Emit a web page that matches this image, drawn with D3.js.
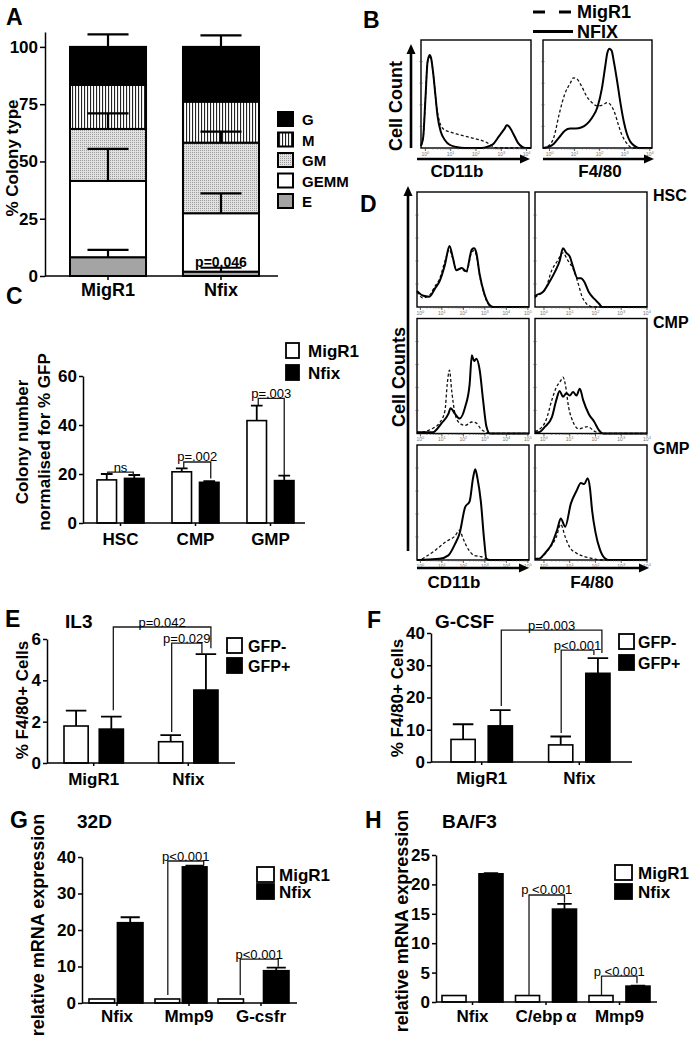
<!DOCTYPE html>
<html><head><meta charset="utf-8">
<script src="https://cdn.jsdelivr.net/npm/d3@7"></script>
<style>body{margin:0;background:#fff}svg{display:block}text{font-family:"Liberation Sans",Arial,Helvetica,sans-serif}</style>
</head><body><svg id="fig" width="700" height="1042"></svg>
<script>
// ================= DATA =================
// Panel A : % colony type (stacked, bottom -> top)
const colonyGroups = ["MigR1", "Nfix"];
const colonyTypes = ["E", "GEMM", "GM", "M", "G"];
const colonyLegendOrder = ["G", "M", "GM", "GEMM", "E"];
const colonyE = [8.2, 1.9];
const colonyGEMM = [33.3, 25.5];
const colonyGM = [22.7, 30.8];
const colonyM = [19.2, 17.9];
const colonyG = [16.6, 23.9];
const colonyErrE = [3.2, 1.7];
const colonyErrGEMM = [14, 8.7];
const colonyErrGM = [6.8, 4.8];
const colonyErrM = [0, 0];
const colonyErrG = [5.5, 5];
const colonyTicks = [0, 25, 50, 75, 100];

// Panel B : flow histograms (x = % of log scale, y = % of max count)
const bCd11bMigR1 = [[0,2],[2,10],[4,45],[6,80],[8,84],[10,78],[12,60],[14,40],[17,24],[21,17],[26,15],[32,13],[40,11],[48,9],[55,7],[60,5],[63,3],[66,1],[70,0],[100,0]];
const bCd11bNfix = [[0,2],[2,10],[4,45],[6,80],[8,86],[9,84],[11,70],[13,50],[15,30],[18,15],[22,7],[26,3],[32,1],[40,0],[55,0],[60,1],[66,4],[71,11],[76,18],[78,21],[80,20],[84,13],[88,5],[92,1],[95,0],[100,0]];
const bF480MigR1 = [[0,0],[5,2],[10,10],[15,32],[20,50],[25,60],[28,65],[31,64],[35,58],[40,48],[45,42],[50,39],[55,40],[59,42],[62,40],[66,32],[69,22],[72,13],[75,7],[78,3],[82,0],[100,0]];
const bF480Nfix = [[0,0],[5,1],[10,4],[15,10],[20,16],[25,18],[30,18],[35,19],[40,22],[45,28],[50,38],[54,55],[57,75],[59,88],[61,92],[63,90],[65,80],[68,62],[71,42],[74,25],[77,13],[80,6],[84,2],[88,0],[100,0]];

// Panel C : colony number normalised for % GFP
const progenitors = ["HSC", "CMP", "GMP"];
const vectorSeries = ["MigR1", "Nfix"];
const colonyNumMigR1 = [17.6, 20.9, 41.8];
const colonyNumNfix = [18.2, 16.6, 17.3];
const colonyNumErrMigR1 = [2.4, 1.4, 6.1];
const colonyNumErrNfix = [1.4, 0.5, 2.0];
const colonyNumTicks = [0, 20, 40, 60];
const colonyNumBrackets = [
  {ga:"HSC", sa:"MigR1", gb:"HSC", sb:"Nfix", level:20.8, legA:20, legB:19.6, label:"ns"},
  {ga:"CMP", sa:"MigR1", gb:"CMP", sb:"Nfix", level:24.9, legA:22.3, legB:18.2, label:"p=.002"},
  {ga:"GMP", sa:"MigR1", gb:"GMP", sb:"Nfix", level:50.9, legA:48.2, legB:19.6, label:"p=.003"}
];

// Panel D : flow histograms per progenitor
const dRows = ["HSC", "CMP", "GMP"];
const dCols = ["CD11b", "F4/80"];
const dHscCd11bMigR1 = [[0,13],[1,12],[5,8],[11,10],[16,18],[20,24],[25,40],[29,50],[32,42],[35,33],[40,33],[44,30],[49,48],[51,49],[53,45],[56,27],[60,11],[65,1],[68,0],[100,0]];
const dHscCd11bNfix = [[0,14],[1,13],[5,10],[11,9],[16,16],[20,22],[25,37],[29,53],[32,43],[35,32],[40,34],[44,31],[49,50],[51,51],[53,47],[56,28],[60,12],[65,1.5],[68,0],[100,0]];
const dHscF480MigR1 = [[0,8],[1,9],[9,15],[15,32],[20,40],[25,47],[29,41],[35,31],[39,19],[42,9],[45,4],[48,1],[53,0],[100,0]];
const dHscF480Nfix = [[0,9],[1,10],[7,13],[13,22],[18,31],[22,40],[25,51],[28,47],[31,44],[34,35],[38,25],[41,25],[44,22],[48,13],[53,7],[57,3],[60,0],[100,0]];
const dCmpCd11bMigR1 = [[0,1],[2,1],[13,4],[20,9],[25,20],[27,43],[29,55],[31,37],[34,17],[38,9],[43,7],[49,10],[53,9],[57,4],[62,1],[66,0],[100,0]];
const dCmpCd11bNfix = [[0,1],[2,1],[14,1],[22,9],[28,17],[30,22],[34,17],[38,13],[43,23],[47,43],[49,68],[51,63],[53,65],[56,55],[59,29],[62,6],[65,0],[100,0]];
const dCmpF480MigR1 = [[0,2],[3,3],[10,12],[15,29],[19,40],[23,46],[25,49],[27,43],[30,23],[34,10],[39,4],[47,6],[53,2],[58,0],[100,0]];
const dCmpF480Nfix = [[0,1],[3,1],[9,6],[15,14],[19,29],[22,37],[25,32],[28,35],[31,33],[34,36],[37,33],[40,39],[43,29],[48,17],[53,10],[57,3],[61,0],[100,0]];
const dGmpCd11bMigR1 = [[0,0],[2,0],[8,3],[17,9],[26,16],[34,21],[38,26],[41,19],[46,9],[51,4],[57,3],[62,1],[66,0],[100,0]];
const dGmpCd11bNfix = [[0,0],[2,0],[20,1],[28,4],[34,14],[38,23],[43,46],[47,51],[50,71],[52,79],[54,71],[57,51],[60,17],[62,1],[65,0],[100,0]];
const dGmpF480MigR1 = [[0,1],[3,1],[12,9],[19,20],[23,31],[27,20],[31,11],[37,6],[44,3],[53,1],[58,0],[100,0]];
const dGmpF480Nfix = [[0,1],[3,1],[9,6],[15,14],[20,27],[23,36],[27,29],[32,49],[37,60],[41,67],[44,66],[47,71],[49,63],[51,43],[54,24],[58,9],[63,1],[66,0],[100,0]];

// Panel E : IL3
const cultureGroups = ["MigR1", "Nfix"];
const gfpSeries = ["GFP-", "GFP+"];
const il3Neg = [1.79, 1.03];
const il3Pos = [1.64, 3.53];
const il3ErrNeg = [0.74, 0.32];
const il3ErrPos = [0.6, 1.74];
const il3Ticks = [0, 2, 4, 6];
const il3Brackets = [
  {ga:"MigR1", sa:"GFP+", gb:"Nfix", sb:"GFP+", level:6.58, legA:2.55, legB:5.55, label:"p=0.042"},
  {ga:"Nfix", sa:"GFP-", gb:"Nfix", sb:"GFP+", level:5.8, legA:1.5, legB:5.3, label:"p=0.029"}
];

// Panel F : G-CSF
const gcsfNeg = [7.0, 5.3];
const gcsfPos = [11.2, 27.5];
const gcsfErrNeg = [4.7, 2.6];
const gcsfErrPos = [4.9, 4.7];
const gcsfTicks = [0, 10, 20, 30, 40];
const gcsfBrackets = [
  {ga:"MigR1", sa:"GFP+", gb:"Nfix", sb:"GFP+", level:40.9, legA:17.4, legB:33.8, label:"p=0.003"},
  {ga:"Nfix", sa:"GFP-", gb:"Nfix", sb:"GFP+", level:34.7, legA:9.0, legB:33.2, label:"p<0.001"}
];

// Panel G : 32D relative mRNA expression
const genes32D = ["Nfix", "Mmp9", "G-csfr"];
const expr32DMigR1 = [1.1, 1.1, 1.1];
const expr32DNfix = [22.0, 37.3, 8.85];
const expr32DErrMigR1 = [0, 0, 0];
const expr32DErrNfix = [1.5, 0.3, 0.85];
const expr32DTicks = [0, 10, 20, 30, 40];
const expr32DBrackets = [
  {ga:"Mmp9", sa:"MigR1", gb:"Mmp9", sb:"Nfix", level:38.9, legA:2.2, legB:37.7, label:"p<0.001"},
  {ga:"G-csfr", sa:"MigR1", gb:"G-csfr", sb:"Nfix", level:12, legA:2.2, legB:9.9, label:"p<0.001"}
];

// Panel H : BA/F3 relative mRNA expression
const genesBaf3 = ["Nfix", "C/ebpα", "Mmp9"];
const exprBaf3MigR1 = [1.1, 1.1, 1.1];
const exprBaf3Nfix = [21.8, 15.8, 2.7];
const exprBaf3ErrMigR1 = [0, 0, 0];
const exprBaf3ErrNfix = [0.1, 0.9, 0.1];
const exprBaf3Ticks = [0, 5, 10, 15, 20, 25];
const exprBaf3Brackets = [
  {ga:"C/ebpα", sa:"MigR1", gb:"C/ebpα", sb:"Nfix", level:18.2, legA:1.2, legB:16.9, label:"p <0.001"},
  {ga:"Mmp9", sa:"MigR1", gb:"Mmp9", sb:"Nfix", level:4.4, legA:1.2, legB:3.2, label:"p <0.001"}
];

// ================= DRAWING =================
const FONT = '"Liberation Sans", Arial, Helvetica, sans-serif';
const svg = d3.select("#fig");
svg.append("rect").attr("width",700).attr("height",1042).attr("fill","#fff");
const defs = svg.append("defs");
const stripes = defs.append("pattern").attr("id","stripes").attr("patternUnits","userSpaceOnUse").attr("width",3).attr("height",4);
stripes.append("rect").attr("width",3).attr("height",4).attr("fill","#fff");
stripes.append("rect").attr("width",1.1).attr("height",4).attr("fill","#222");
const stip = defs.append("pattern").attr("id","stipple").attr("patternUnits","userSpaceOnUse").attr("width",2).attr("height",2);
stip.append("rect").attr("width",2).attr("height",2).attr("fill","#e2e2e2");
stip.append("rect").attr("width",1).attr("height",1).attr("fill","#9a9a9a");

function txt(x, y, s, size, opts = {}) {
  return svg.append("text").attr("x", x).attr("y", y).text(s)
    .attr("font-size", size).attr("font-weight", opts.weight || "bold")
    .attr("text-anchor", opts.anchor || "start").attr("fill", opts.fill || "#000");
}
function vtxt(x, y, s, size, parent) {
  return (parent || svg).append("text").attr("transform", `translate(${x},${y}) rotate(-90)`)
    .attr("text-anchor", "middle").attr("font-size", size).attr("font-weight", "bold").text(s);
}
function styleAxis(a, size) {
  a.selectAll("path,line").attr("stroke", "#000").attr("stroke-width", 1.5);
  a.selectAll("text").attr("font-size", size).attr("font-weight", "bold").attr("font-family", FONT).attr("fill", "#000");
}
function legend(labels, fills, lx, tops, bw, bh, tx, size) {
  labels.forEach((l, i) => {
    svg.append("rect").attr("x", lx).attr("y", tops[i]).attr("width", bw).attr("height", bh)
      .attr("fill", fills[i]).attr("stroke", "#000").attr("stroke-width", 1.8);
    txt(tx, tops[i] + bh - 1, l, size);
  });
}

// ---------- Panel A ----------
(function () {
  const y = d3.scaleLinear().domain([0, 106.5]).range([276, 32]);
  const x = d3.scaleBand().domain(colonyGroups).range([70, 259]).paddingInner(0.327).paddingOuter(0);
  const vals = {E: colonyE, GEMM: colonyGEMM, GM: colonyGM, M: colonyM, G: colonyG};
  const errs = {E: colonyErrE, GEMM: colonyErrGEMM, GM: colonyErrGM, M: colonyErrM, G: colonyErrG};
  const fill = {E: "#a4a4a4", GEMM: "#fff", GM: "url(#stipple)", M: "url(#stripes)", G: "#000"};
  const rows = colonyGroups.map((grp, i) => {
    const r = {group: grp};
    colonyTypes.forEach(k => r[k] = vals[k][i]);
    return r;
  });
  const stack = d3.stack().keys(colonyTypes)(rows);
  const g = svg.append("g");
  g.selectAll("g.layer").data(stack).join("g").attr("fill", d => fill[d.key])
    .selectAll("rect").data(d => d).join("rect")
    .attr("x", d => x(d.data.group)).attr("width", x.bandwidth())
    .attr("y", d => y(d[1])).attr("height", d => y(d[0]) - y(d[1]))
    .attr("stroke", "#000").attr("stroke-width", 2);
  stack.forEach(layer => layer.forEach((d, i) => {
    const e = errs[layer.key][i];
    if (!e) return;
    const cx = x(d.data.group) + x.bandwidth() / 2, w = x.bandwidth() * 0.54;
    g.append("path").attr("d", `M${cx},${y(d[1])}V${y(d[1] + e)}M${cx - w / 2},${y(d[1] + e)}H${cx + w / 2}`)
      .attr("stroke", "#000").attr("stroke-width", 2.2).attr("fill", "none");
  }));
  g.append("text").attr("x", x("Nfix") + x.bandwidth() / 2).attr("y", y(colonyE[1] + colonyErrE[1]) - 0.5)
    .attr("text-anchor", "middle").attr("font-size", 14).attr("font-weight", "bold").text("p=0.046");
  const ya = g.append("g").attr("transform", "translate(45,0)")
    .call(d3.axisLeft(y).tickValues(colonyTicks).tickSize(5).tickSizeOuter(0).tickPadding(2).tickFormat(d3.format("d")));
  styleAxis(ya, 17);
  g.append("line").attr("x1", 45).attr("x2", 278).attr("y1", y(0)).attr("y2", y(0)).attr("stroke", "#000").attr("stroke-width", 1.5);
  const xa = g.append("g").attr("transform", `translate(0,${y(0)})`).call(d3.axisBottom(x).tickSize(4).tickPadding(3));
  xa.select(".domain").remove();
  styleAxis(xa, 18);
  vtxt(18, 158, "% Colony type", 17);
  colonyLegendOrder.forEach((k, i) => {
    svg.append("rect").attr("x", 278).attr("y", 112 + i * 20.5).attr("width", 15).attr("height", 14)
      .attr("fill", fill[k]).attr("stroke", "#000").attr("stroke-width", 2);
    txt(302, 125 + i * 20.5, k, 15);
  });
  txt(6, 25, "A", 23);
})();

// ---------- flow box helper ----------
function flowBox(bx, by, solid, dashed, nDec, decFrom, decTo) {
  const g = svg.append("g");
  const xs = d3.scaleLinear().domain([0, 100]).range(bx);
  const ys = d3.scaleLinear().domain([0, 100]).range([by[1], by[0]]);
  const line = d3.line().x(d => xs(d[0])).y(d => ys(d[1])).curve(d3.curveMonotoneX);
  g.append("path").datum(dashed).attr("d", line).attr("fill", "none").attr("stroke", "#111")
    .attr("stroke-width", 1.3).attr("stroke-dasharray", "3,2.2");
  g.append("path").datum(solid).attr("d", line).attr("fill", "none").attr("stroke", "#000")
    .attr("stroke-width", 2).attr("stroke-linejoin", "round");
  g.append("rect").attr("x", bx[0]).attr("y", by[0]).attr("width", bx[1] - bx[0]).attr("height", by[1] - by[0])
    .attr("fill", "none").attr("stroke", "#000").attr("stroke-width", 1.4);
  const xd = d3.scaleLinear().domain([0, nDec]).range([xs(decFrom), xs(decTo)]);
  const minor = [];
  d3.range(nDec).forEach(d => [2, 3, 4, 5, 6, 7, 8, 9].forEach(m => minor.push(d + Math.log10(m))));
  g.selectAll("line.mn").data(minor).join("line").attr("x1", xd).attr("x2", xd)
    .attr("y1", by[1]).attr("y2", by[1] + 1.5).attr("stroke", "#555").attr("stroke-width", 0.6);
  g.selectAll("line.mj").data(d3.range(nDec + 1)).join("line").attr("x1", xd).attr("x2", xd)
    .attr("y1", by[1]).attr("y2", by[1] + 3).attr("stroke", "#333").attr("stroke-width", 0.8);
  const lab = g.selectAll("text.dec").data(d3.range(nDec + 1)).join("text")
    .attr("x", xd).attr("y", by[1] + 8).attr("text-anchor", "middle").attr("font-size", 5).attr("fill", "#777");
  lab.append("tspan").text("10");
  lab.append("tspan").attr("dy", -2).attr("font-size", 4).text(d => d);
  g.selectAll("line.lt").data([20, 40, 60, 80]).join("line")
    .attr("x1", bx[0] - 1.5).attr("x2", bx[0] + 1.5).attr("y1", ys).attr("y2", ys)
    .attr("stroke", "#444").attr("stroke-width", 0.7);
}
function arrow(x1, y1, x2, y2) {
  const ang = Math.atan2(y2 - y1, x2 - x1), L = 10, W = 4.5;
  const bxp = x2 - L * Math.cos(ang), byp = y2 - L * Math.sin(ang);
  svg.append("line").attr("x1", x1).attr("y1", y1).attr("x2", bxp).attr("y2", byp)
    .attr("stroke", "#000").attr("stroke-width", 2.6);
  const px = -Math.sin(ang) * W, py = Math.cos(ang) * W;
  svg.append("path").attr("d", `M${x2},${y2}L${bxp + px},${byp + py}L${bxp - px},${byp - py}Z`).attr("fill", "#000");
}

// ---------- Panel B ----------
(function () {
  flowBox([421, 531], [40, 148], bCd11bNfix, bCd11bMigR1, 4, 4, 96);
  flowBox([543, 652], [40, 148], bF480Nfix, bF480MigR1, 4, 6, 98);
  arrow(411, 148, 411, 44);
  arrow(417, 159, 530, 159);
  arrow(543, 159, 654, 159);
  vtxt(402, 106, "Cell Count", 18);
  txt(457, 177, "CD11b", 17, {anchor: "middle"});
  txt(600, 177, "F4/80", 17, {anchor: "middle"});
  svg.append("line").attr("x1", 533).attr("x2", 573).attr("y1", 12).attr("y2", 12)
    .attr("stroke", "#000").attr("stroke-width", 2.8).attr("stroke-dasharray", "12,14");
  svg.append("line").attr("x1", 533).attr("x2", 573).attr("y1", 31.5).attr("y2", 31.5)
    .attr("stroke", "#000").attr("stroke-width", 2.8);
  txt(577, 18, "MigR1", 18);
  txt(577, 38, "NFIX", 18);
  txt(363, 28, "B", 23);
})();

// ---------- Panel D ----------
(function () {
  const rowScale = d3.scaleBand().domain(dRows).range([192, 560]).paddingInner(0.091);
  const colScale = d3.scaleBand().domain(dCols).range([417, 647]).paddingInner(0.051);
  const curves = {
    HSC: {CD11b: [dHscCd11bNfix, dHscCd11bMigR1], "F4/80": [dHscF480Nfix, dHscF480MigR1]},
    CMP: {CD11b: [dCmpCd11bNfix, dCmpCd11bMigR1], "F4/80": [dCmpF480Nfix, dCmpF480MigR1]},
    GMP: {CD11b: [dGmpCd11bNfix, dGmpCd11bMigR1], "F4/80": [dGmpF480Nfix, dGmpF480MigR1]}
  };
  dRows.forEach(r => dCols.forEach(c => {
    const x0 = colScale(c), y0 = rowScale(r);
    const left = c === "CD11b";
    flowBox([x0, x0 + colScale.bandwidth()], [y0, y0 + rowScale.bandwidth()],
      curves[r][c][0], curves[r][c][1], left ? 5 : 4, left ? 3 : 8, left ? 99 : 100);
  }));
  dRows.forEach(r => txt(653, rowScale(r) + 9, r, 16));
  arrow(408, 551, 408, 186);
  arrow(417, 568, 529, 568);
  arrow(540, 568, 649, 568);
  vtxt(405, 377, "Cell Counts", 18);
  txt(454, 588, "CD11b", 17, {anchor: "middle"});
  txt(592, 588, "F4/80", 17, {anchor: "middle"});
  txt(360, 212, "D", 23);
})();

// ---------- grouped bar helper ----------
function barPanel(o) {
  const g = svg.append("g");
  const y = d3.scaleLinear().domain(o.yDomain).range(o.yRange);
  const xg = d3.scaleBand().domain(o.groups).range(o.groupRange).paddingInner(o.groupPad).paddingOuter(0);
  const inner = o.groups.map((grp, i) => d3.scaleBand().domain(o.series)
    .range(o.innerRanges ? o.innerRanges[i] : [0, xg.bandwidth()])
    .paddingInner(o.innerPads ? o.innerPads[i] : o.innerPad).paddingOuter(0));
  const bx = (gi, si) => xg(o.groups[gi]) + inner[gi](o.series[si]);
  const bw = gi => inner[gi].bandwidth();
  const cx = (gi, si) => bx(gi, si) + bw(gi) / 2;
  o.series.forEach((s, si) => {
    g.append("g").selectAll("rect").data(o.values[si]).join("rect")
      .attr("x", (d, gi) => bx(gi, si)).attr("width", (d, gi) => bw(gi))
      .attr("y", d => y(d)).attr("height", d => y(0) - y(d))
      .attr("fill", o.fills[si]).attr("stroke", "#000").attr("stroke-width", o.barStroke || 1.6);
  });
  o.series.forEach((s, si) => o.values[si].forEach((v, gi) => {
    const e = o.errors[si][gi];
    if (!e) return;
    const c = cx(gi, si), w = bw(gi) * o.capFrac;
    g.append("path").attr("d", `M${c},${y(v)}V${y(v + e)}M${c - w / 2},${y(v + e)}H${c + w / 2}`)
      .attr("stroke", "#000").attr("stroke-width", 1.8).attr("fill", "none");
  }));
  (o.brackets || []).forEach((b, bi) => {
    const off = (o.bracketDx || [])[bi] || [0, 0];
    const xa = cx(o.groups.indexOf(b.ga), o.series.indexOf(b.sa)) + off[0];
    const xb = cx(o.groups.indexOf(b.gb), o.series.indexOf(b.sb)) + off[1];
    g.append("path").attr("d", `M${xa},${y(b.legA)}V${y(b.level)}H${xb}V${y(b.legB)}`)
      .attr("fill", "none").attr("stroke", "#1a1a1a").attr("stroke-width", 1.3);
    g.append("text").attr("x", (xa + xb) / 2).attr("y", y(b.level) - 0.5).attr("text-anchor", "middle")
      .attr("font-size", 13).attr("font-weight", "normal").text(b.label);
  });
  const ya = g.append("g").attr("transform", `translate(${o.axisX},0)`)
    .call(d3.axisLeft(y).tickValues(o.ticks).tickSize(4).tickSizeOuter(0).tickPadding(2).tickFormat(d3.format("d")));
  styleAxis(ya, 17);
  g.append("line").attr("x1", o.axisX).attr("x2", o.axisEnd).attr("y1", y(0)).attr("y2", y(0))
    .attr("stroke", "#000").attr("stroke-width", 1.5);
  const xa = g.append("g").attr("transform", `translate(0,${y(0)})`)
    .call(d3.axisBottom(xg).tickSize(3).tickPadding(o.xPad).tickFormat(o.xFormat || (d => d)));
  xa.select(".domain").remove();
  styleAxis(xa, 17);
  return {y, xg};
}

// ---------- Panel C ----------
barPanel({
  groups: progenitors, series: vectorSeries,
  values: [colonyNumMigR1, colonyNumNfix], errors: [colonyNumErrMigR1, colonyNumErrNfix],
  fills: ["#fff", "#000"], yDomain: [0, 60], yRange: [523, 376], ticks: colonyNumTicks,
  groupRange: [97, 294], groupPad: 0.373, innerPad: 0.29, axisX: 83, axisEnd: 305,
  capFrac: 0.6, xPad: 7, brackets: colonyNumBrackets, bracketDx: [[1, -1], [2, 1.5], [1.5, 0]]
});
legend(vectorSeries, ["#fff", "#000"], 286, [343, 365], 13, 15, 308, 17);
vtxt(28, 442, "Colony number", 17);
vtxt(50, 442, "normalised for % GFP", 17);
txt(6, 304, "C", 23);

// ---------- Panel E ----------
barPanel({
  groups: cultureGroups, series: gfpSeries,
  values: [il3Neg, il3Pos], errors: [il3ErrNeg, il3ErrPos],
  fills: ["#fff", "#000"], yDomain: [0, 6], yRange: [763, 639], ticks: il3Ticks,
  groupRange: [64, 218], groupPad: 0.372, innerPad: 0.314, axisX: 47, axisEnd: 235,
  capFrac: 0.85, xPad: 7, brackets: il3Brackets, bracketDx: [[2, 5], [1, -4]]
});
legend(gfpSeries, ["#fff", "#000"], 227, [638, 658], 15, 15, 248, 16);
vtxt(28, 700, "% F4/80+ Cells", 17);
txt(5, 627, "E", 23);
txt(65, 628, "IL3", 19);

// ---------- Panel F ----------
barPanel({
  groups: cultureGroups, series: gfpSeries,
  values: [gcsfNeg, gcsfPos], errors: [gcsfErrNeg, gcsfErrPos],
  fills: ["#fff", "#000"], yDomain: [0, 40], yRange: [762, 633], ticks: gcsfTicks,
  groupRange: [451, 610], groupPad: 0.371, innerPad: 0.35, axisX: 431, axisEnd: 632,
  capFrac: 0.85, xPad: 7, brackets: gcsfBrackets, bracketDx: [[1, 4], [0.5, -4]]
});
legend(gfpSeries, ["#fff", "#000"], 619, [634, 655], 15, 15, 638, 16);
vtxt(403, 698, "% F4/80+ Cells", 17);
txt(367, 628, "F", 23);
txt(435, 628, "G-CSF", 19);

// ---------- Panel G ----------
barPanel({
  groups: genes32D, series: vectorSeries,
  values: [expr32DMigR1, expr32DNfix], errors: [expr32DErrMigR1, expr32DErrNfix],
  fills: ["#fff", "#000"], yDomain: [0, 40], yRange: [1003, 857], ticks: expr32DTicks,
  groupRange: [89, 289], groupPad: 0.222, innerRanges: [[0, 54], [-6, 46], [-15, 56]], innerPads: [0.1, 0.1, 0.44],
  axisX: 82, axisEnd: 297, capFrac: 0.75, xPad: 4, brackets: expr32DBrackets, bracketDx: [[0.5, 9], [9.5, 2]]
});
legend(vectorSeries, ["#fff", "#000"], 257, [867, 884], 17, 15, 279, 17);
vtxt(44, 925, "relative mRNA expression", 18);
txt(10, 828, "G", 23);
txt(77, 828, "32D", 19);

// ---------- Panel H ----------
barPanel({
  groups: genesBaf3, series: vectorSeries,
  values: [exprBaf3MigR1, exprBaf3Nfix], errors: [exprBaf3ErrMigR1, exprBaf3ErrNfix],
  fills: ["#fff", "#000"], yDomain: [0, 25], yRange: [1002, 855], ticks: exprBaf3Ticks,
  groupRange: [442, 650], groupPad: 0.17, innerPad: 0.35, axisX: 436, axisEnd: 657,
  capFrac: 0.6, xPad: 5, brackets: exprBaf3Brackets, bracketDx: [[1.5, 0], [0.5, -1]],
  xFormat: d => d.replace("α", "\u2009α")
});
legend(vectorSeries, ["#fff", "#000"], 615, [865, 884], 17, 15, 638, 17);
vtxt(408, 921, "relative mRNA expression", 18);
txt(365, 828, "H", 23);
txt(442, 828, "BA/F3", 19);
</script>
</body></html>
